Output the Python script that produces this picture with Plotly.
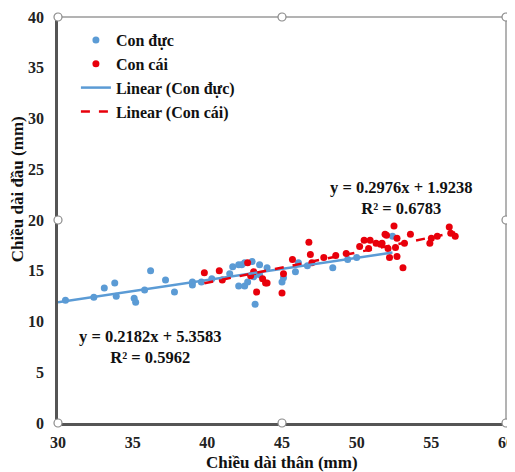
import plotly.graph_objects as go

# Con đực (blue)
duc_x = [30.5, 32.4, 33.1, 33.8, 33.9, 35.1, 35.2, 35.8, 36.2, 37.2, 37.8, 39.0, 39.0,
         39.6, 40.3, 41.5, 41.7, 42.1, 42.3, 42.5, 43.0, 43.5, 42.1, 42.5, 42.7, 43.2,
         43.1, 43.5, 44.0, 45.1, 45.0, 45.9, 46.1, 46.7, 48.4, 49.4, 50.0, 52.4]
duc_y = [12.1, 12.4, 13.3, 13.8, 12.5, 12.3, 11.9, 13.1, 15.0, 14.1, 12.9, 13.9, 13.6,
         13.9, 14.2, 14.7, 15.4, 15.6, 15.6, 15.8, 15.9, 15.6, 13.5, 13.5, 13.9, 11.7,
         14.4, 14.6, 15.3, 14.3, 13.9, 14.9, 15.8, 15.5, 15.3, 16.1, 16.3, 18.4]

# Con cái (red)
cai_x = [39.8, 40.8, 41.0, 42.7, 42.9, 43.1, 43.3, 43.7, 43.9, 44.0, 45.0, 45.1, 45.7,
         46.8, 46.9, 47.0, 47.8, 48.6, 49.3, 50.2, 50.5, 50.8, 50.9, 51.3, 51.6, 51.7,
         51.9, 52.0, 52.5, 52.7, 52.1, 52.6, 52.7, 52.2, 53.1, 53.2, 53.6, 54.9, 55.0,
         55.4, 56.2, 56.3, 56.6]
cai_y = [14.8, 15.0, 14.1, 15.8, 14.5, 14.9, 12.9, 14.2, 13.8, 13.8, 12.8, 14.7, 16.1,
         17.8, 16.6, 15.8, 16.3, 16.5, 16.7, 17.4, 18.0, 17.2, 18.0, 17.7, 17.6, 17.7,
         18.6, 18.5, 19.4, 18.2, 17.2, 17.3, 16.4, 16.3, 15.3, 17.7, 18.6, 17.7, 18.2,
         18.4, 19.3, 18.7, 18.4]

# trendline equations shown on the chart
duc_a, duc_b = 0.2182, 5.3583
cai_a, cai_b = 0.2976, 1.9238

x_ticks = [30, 35, 40, 45, 50, 55, 60]
y_ticks = [0, 5, 10, 15, 20, 25, 30, 35, 40]

BLUE = "#5b9bd5"
RED = "#e8000b"
FONT = "Liberation Serif"

duc_line_x = [min(duc_x) - 0.5, max(duc_x)]
cai_line_x = [min(cai_x), max(cai_x)]

fig = go.Figure()
fig.add_trace(go.Scatter(x=duc_x, y=duc_y, mode="markers", name="Con đực",
                         marker=dict(color=BLUE, size=7)))
fig.add_trace(go.Scatter(x=cai_x, y=cai_y, mode="markers", name="Con cái",
                         marker=dict(color=RED, size=7)))
fig.add_trace(go.Scatter(x=duc_line_x, y=[duc_a * v + duc_b for v in duc_line_x],
                         mode="lines", name="Linear (Con đực)",
                         line=dict(color=BLUE, width=2.5)))
fig.add_trace(go.Scatter(x=cai_line_x, y=[cai_a * v + cai_b for v in cai_line_x],
                         mode="lines", name="Linear (Con cái)",
                         line=dict(color=RED, width=2.5, dash="dash")))

txt = dict(family=FONT, size=16.5, color="#111111", weight=700)
fig.add_annotation(x=36.2, y=7.45, text="y = 0.2182x + 5.3583<br>R² = 0.5962",
                   showarrow=False, font=txt, align="center")
fig.add_annotation(x=53.0, y=22.2, text="y = 0.2976x + 1.9238<br>R² = 0.6783",
                   showarrow=False, font=txt, align="center")

# axis titles
ttl = dict(family=FONT, size=17, color="#111111", weight=700)
fig.add_annotation(xref="paper", yref="paper", x=0.5, y=-0.098, yanchor="middle",
                   text="Chiều dài thân (mm)", showarrow=False, font=ttl)
fig.add_annotation(xref="paper", yref="paper", x=-0.09, y=0.575, xanchor="center",
                   text="Chiều dài đầu (mm)", textangle=-90, showarrow=False, font=ttl)

# top / right frame
fig.add_shape(type="line", xref="paper", yref="paper", x0=0, x1=1, y0=1, y1=1,
              line=dict(color="#9a9a9a", width=1.5))
fig.add_shape(type="line", xref="paper", yref="paper", x0=1, x1=1, y0=0, y1=1,
              line=dict(color="#9a9a9a", width=1.5))
# selection handles
for hx, hy in [(0, 0), (0.5, 0), (1, 0), (0, 0.5), (1, 0.5), (0, 1), (0.5, 1), (1, 1)]:
    fig.add_shape(type="circle", xref="paper", yref="paper", xsizemode="pixel",
                  ysizemode="pixel", xanchor=hx, yanchor=hy, x0=-4, x1=4, y0=-4, y1=4,
                  fillcolor="white", line=dict(color="#8a8a8a", width=1.2))

# page body has an 8px margin, so the figure is a bit smaller than the window
axfont = dict(family=FONT, size=16, color="#222222", weight=700)
fig.update_layout(
    width=507, height=464,
    margin=dict(l=50, r=9, t=9, b=49),
    paper_bgcolor="white", plot_bgcolor="white",
    font=dict(family=FONT),
    showlegend=True,
    legend=dict(x=0.04, y=0.985, xanchor="left", yanchor="top",
                font=dict(family=FONT, size=16, color="#111111", weight=700),
                bgcolor="rgba(0,0,0,0)", tracegroupgap=0, itemwidth=30),
    xaxis=dict(range=[30, 60], tickvals=x_ticks, showgrid=False, zeroline=False,
               showline=True, linecolor="#555555", linewidth=2.5, ticks="",
               tickfont=axfont, ticklabelstandoff=3, automargin=False,
               ticklabeloverflow="allow"),
    yaxis=dict(range=[0, 40], tickvals=y_ticks, showgrid=False, zeroline=False,
               showline=True, linecolor="#555555", linewidth=2.5, ticks="",
               tickfont=axfont, ticklabelstandoff=8, automargin=False),
)

fig.write_html("out.html")
